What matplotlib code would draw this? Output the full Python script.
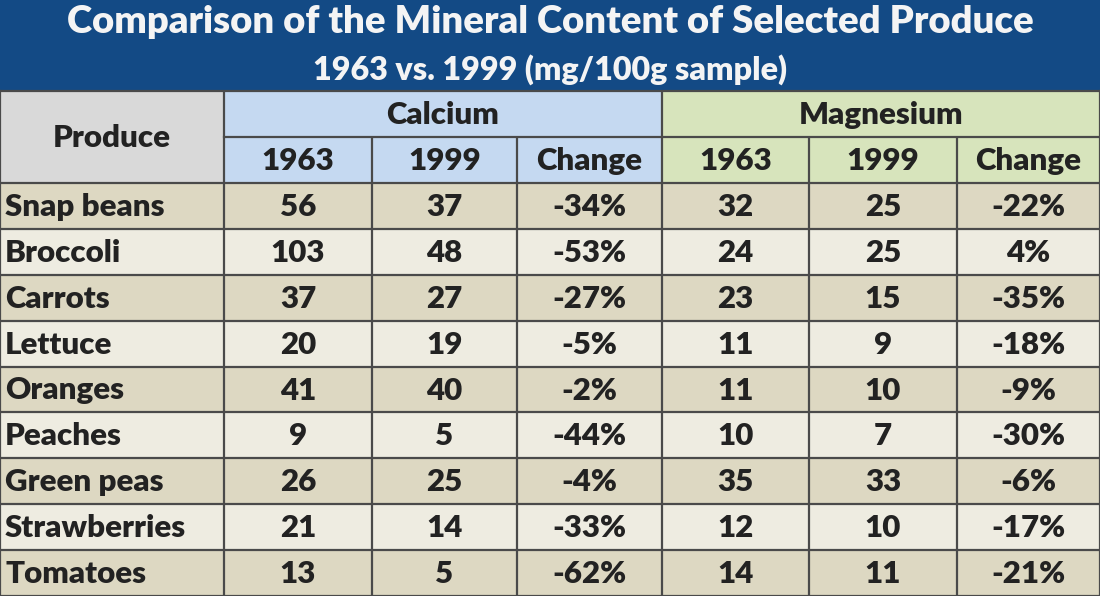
import matplotlib
matplotlib.use("Agg")
import matplotlib.pyplot as plt
from matplotlib.patches import Rectangle

title = "Comparison of the Mineral Content of Selected Produce"
subtitle = "1963 vs. 1999 (mg/100g sample)"
groups = ["Calcium", "Magnesium"]
sub_headers = ["1963", "1999", "Change"]
produce = ["Snap beans", "Broccoli", "Carrots", "Lettuce", "Oranges",
           "Peaches", "Green peas", "Strawberries", "Tomatoes"]
calcium_1963 = [56, 103, 37, 20, 41, 9, 26, 21, 13]
calcium_1999 = [37, 48, 27, 19, 40, 5, 25, 14, 5]
calcium_change = [-34, -53, -27, -5, -2, -44, -4, -33, -62]
magnesium_1963 = [32, 24, 23, 11, 11, 10, 35, 12, 14]
magnesium_1999 = [25, 25, 15, 9, 10, 7, 33, 10, 11]
magnesium_change = [-22, 4, -35, -18, -9, -30, -6, -17, -21]

W, H = 1100, 596
fig = plt.figure(figsize=(11, 5.96), dpi=100)
ax = fig.add_axes([0, 0, 1, 1])
ax.set_xlim(0, W)
ax.set_ylim(H, 0)
ax.axis("off")

FONT = "Lato"
WT = "heavy"
TXT = "#222222"
LINE = "#4a4a4a"
FS = 22.5

col_x = [0, 224, 372, 517, 662, 809, 957, 1100]
title_bottom = 91
h1_bottom = 137
h2_bottom = 183
row_h = (H - h2_bottom) / len(produce)

# title band
ax.add_patch(Rectangle((0, 0), W, title_bottom, facecolor="#134a85", edgecolor="none"))
ax.text(W / 2, 22, title, ha="center", va="center", color="#f4f4f4",
        fontsize=27.5, fontweight=WT, family=FONT)
ax.text(W / 2, 70, subtitle, ha="center", va="center", color="#f4f4f4",
        fontsize=23.2, fontweight=WT, family=FONT)

# header cells
ax.add_patch(Rectangle((0, title_bottom), col_x[1], h2_bottom - title_bottom,
                       facecolor="#d9d9d9", edgecolor="none"))
ax.text(col_x[1] / 2, (title_bottom + h2_bottom) / 2 + 1, "Produce", ha="center",
        va="center", color=TXT, fontsize=FS, fontweight=WT, family=FONT)
group_colors = ["#c5d9f1", "#d7e4bc"]
for g, name in enumerate(groups):
    x0 = col_x[1 + 3 * g]
    x1 = col_x[4 + 3 * g]
    ax.add_patch(Rectangle((x0, title_bottom), x1 - x0, h2_bottom - title_bottom,
                           facecolor=group_colors[g], edgecolor="none"))
    ax.text((x0 + x1) / 2, (title_bottom + h1_bottom) / 2 + 1, name, ha="center",
            va="center", color=TXT, fontsize=FS, fontweight=WT, family=FONT)
    for k, sh in enumerate(sub_headers):
        c0 = col_x[1 + 3 * g + k]
        c1 = col_x[2 + 3 * g + k]
        ax.text((c0 + c1) / 2, (h1_bottom + h2_bottom) / 2 + 1, sh, ha="center",
                va="center", color=TXT, fontsize=FS, fontweight=WT, family=FONT)

# data rows
row_colors = ["#ddd8c2", "#eeece1"]
columns = [calcium_1963, calcium_1999, calcium_change,
           magnesium_1963, magnesium_1999, magnesium_change]
is_pct = [False, False, True, False, False, True]
for i, name in enumerate(produce):
    y0 = h2_bottom + i * row_h
    yc = y0 + row_h / 2 + 1
    ax.add_patch(Rectangle((0, y0), W, row_h, facecolor=row_colors[i % 2], edgecolor="none"))
    ax.text(5, yc, name, ha="left", va="center", color=TXT,
            fontsize=FS, fontweight=WT, family=FONT)
    for j, col in enumerate(columns):
        v = col[i]
        s = f"{v}%" if is_pct[j] else f"{v}"
        cx = (col_x[j + 1] + col_x[j + 2]) / 2
        ax.text(cx, yc, s, ha="center", va="center", color=TXT,
                fontsize=FS, fontweight=WT, family=FONT)

# grid lines
lw = 1.6
for i in range(len(produce) + 1):
    y = h2_bottom + i * row_h
    ax.plot([0, W], [y, y], color=LINE, lw=lw, solid_capstyle="butt")
ax.plot([0, W], [title_bottom, title_bottom], color=LINE, lw=lw)
ax.plot([col_x[1], W], [h1_bottom, h1_bottom], color=LINE, lw=lw)
for k, x in enumerate(col_x[1:-1]):
    ytop = title_bottom if k in (0, 3) else h1_bottom
    ax.plot([x, x], [ytop, H], color=LINE, lw=lw, solid_capstyle="butt")
ax.plot([0, 0], [title_bottom, H], color=LINE, lw=lw)
ax.plot([W, W], [title_bottom, H], color=LINE, lw=lw)

fig.savefig("out.png", dpi=100)
